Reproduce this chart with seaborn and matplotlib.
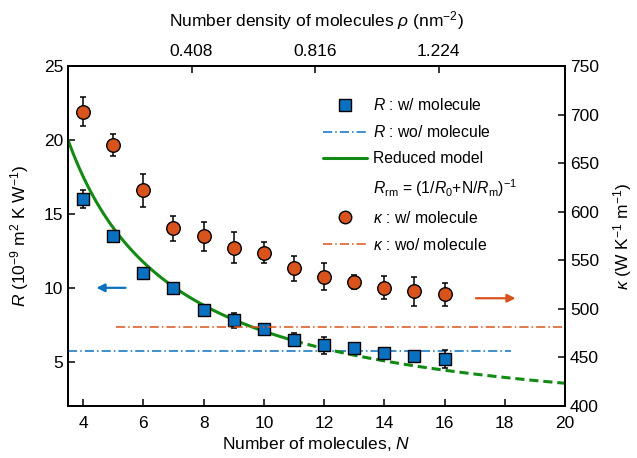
import numpy as np
import pandas as pd
import matplotlib
matplotlib.use("Agg")
import matplotlib.pyplot as plt
from matplotlib.lines import Line2D
import seaborn as sns

sns.set_theme(style="ticks")
plt.rcParams['font.family'] = ['Liberation Sans', 'DejaVu Sans']
plt.rcParams['mathtext.fontset'] = 'custom'
plt.rcParams['mathtext.rm'] = 'Liberation Sans'
plt.rcParams['mathtext.it'] = 'Liberation Sans:italic'
plt.rcParams['text.color'] = 'black'
plt.rcParams['axes.labelcolor'] = 'black'

# ---- data ----
n_mol = [4, 5, 6, 7, 8, 9, 10, 11, 12, 13, 14, 15, 16]
R_with = [16.0, 13.5, 11.0, 10.0, 8.5, 7.8, 7.2, 6.5, 6.1, 5.9, 5.6, 5.4, 5.2]
R_err = [0.6, 0.3, 0.35, 0.1, 0.3, 0.5, 0.15, 0.45, 0.6, 0.3, 0.3, 0.1, 0.6]
kappa_with = [703, 669, 622, 583, 575, 563, 558, 542, 533, 528, 522, 518, 515]
kappa_err = [15, 11, 17, 13, 15, 16, 11, 13, 14, 7, 12, 15, 12]

R_without = 5.7          # R : wo/ molecule
R_without_span = [3.5, 18.2]
kappa_without = 481      # kappa : wo/ molecule
kappa_without_span = [5.1, 20]

# reduced model R_rm = (1/R0 + N/Rm)^-1
R0 = 1466.0
Rm = 71.0
model_solid_span = [3.5, 11.0]
model_dash_span = [11.0, 20.0]

rho_ticks = [0.408, 0.816, 1.224]
rho_per_n = 0.0995

blue = "#0a70c0"
orange = "#d9541c"
green = "#138a13"

df_R = pd.DataFrame({"N": n_mol, "R": R_with, "err": R_err})
df_k = pd.DataFrame({"N": n_mol, "kappa": kappa_with, "err": kappa_err})

fig = plt.figure(figsize=(6.37, 4.58), dpi=100)
ax = fig.add_axes([0.1068, 0.1135, 0.7802, 0.742])
ax2 = ax.twinx()

# reduced model curve
def reduced(n):
    return 1.0 / (1.0 / R0 + n / Rm)

n_s = np.linspace(*model_solid_span, 100)
n_d = np.linspace(*model_dash_span, 100)
sns.lineplot(x=n_s, y=reduced(n_s), ax=ax, color=green, lw=2.2, zorder=3)
sns.lineplot(x=n_d, y=reduced(n_d), ax=ax, color=green, lw=2.2, ls=(0, (3, 1.6)), zorder=3)

# without-molecule reference lines
ax.plot(R_without_span, [R_without] * 2, color=blue, lw=1.1, ls=(0, (6, 2, 1, 2)), zorder=2)
ax2.plot(kappa_without_span, [kappa_without] * 2, color=orange, lw=1.1, ls=(0, (6, 2, 1, 2)), zorder=2)

# error bars + markers
ax.errorbar(df_R["N"], df_R["R"], yerr=df_R["err"], fmt="none", ecolor="black",
            elinewidth=1.1, capsize=2.5, capthick=1.1, zorder=4)
sns.scatterplot(data=df_R, x="N", y="R", ax=ax, marker="s", s=85, color=blue,
                edgecolor="black", linewidth=1.0, zorder=5)
ax2.errorbar(df_k["N"], df_k["kappa"], yerr=df_k["err"], fmt="none", ecolor="black",
             elinewidth=1.1, capsize=2.5, capthick=1.1, zorder=4)
sns.scatterplot(data=df_k, x="N", y="kappa", ax=ax2, marker="o", s=95, color=orange,
                edgecolor="black", linewidth=1.0, zorder=5)

# arrows pointing to the axes
ax.annotate("", xy=(4.35, 10), xytext=(5.5, 10),
            arrowprops=dict(arrowstyle="-|>", color=blue, lw=1.6, mutation_scale=12))
ax2.annotate("", xy=(18.45, 511), xytext=(16.95, 511),
             arrowprops=dict(arrowstyle="-|>", color=orange, lw=1.6, mutation_scale=12))

ax.set_xlim(3.5, 20)
ax.set_ylim(2, 25)
ax2.set_ylim(400, 750)
ax.set_xticks([4, 6, 8, 10, 12, 14, 16, 18, 20])
ax.set_yticks([5, 10, 15, 20, 25])
ax2.set_yticks([400, 450, 500, 550, 600, 650, 700, 750])

fs = 12.5
ax.set_xlabel("Number of molecules, $N$", fontsize=fs, labelpad=3)
ax.set_ylabel("$R$ (10$^{-9}$ m$^2$ K W$^{-1}$)", fontsize=fs, labelpad=9)
ax2.set_ylabel(r"$\kappa$ (W K$^{-1}$ m$^{-1}$)", fontsize=fs, labelpad=9)

top = ax.secondary_xaxis("top", functions=(lambda n: (n - 3.5) * rho_per_n,
                                            lambda r: r / rho_per_n + 3.5))
top.set_xticks(rho_ticks)
top.set_xticklabels([f"{t:.3f}" for t in rho_ticks])
top.set_xlabel(r"Number density of molecules $\rho$ (nm$^{-2}$)", fontsize=fs, labelpad=13)

for a in (ax, ax2, top):
    a.tick_params(direction="in", length=5, width=1.1, labelsize=fs, colors="black")
    for sp in a.spines.values():
        sp.set_linewidth(1.3)
        sp.set_color("black")
ax.tick_params(axis="x", pad=7)
top.tick_params(pad=5)

handles = [
    Line2D([], [], marker="s", ls="none", color=blue, markeredgecolor="black", markersize=8.5),
    Line2D([], [], color=blue, lw=1.1, ls=(0, (6, 2, 1, 2))),
    Line2D([], [], color=green, lw=2.2),
    Line2D([], [], color="none"),
    Line2D([], [], marker="o", ls="none", color=orange, markeredgecolor="black", markersize=9),
    Line2D([], [], color=orange, lw=1.1, ls=(0, (6, 2, 1, 2))),
]
labels = [
    "$R$ : w/ molecule",
    "$R$ : wo/ molecule",
    "Reduced model",
    r"$R_{\mathrm{rm}}$ = (1/$R_0$+N/$R_{\mathrm{m}}$)$^{-1}$",
    r"$\kappa$ : w/ molecule",
    r"$\kappa$ : wo/ molecule",
]
leg = ax2.legend(handles, labels, loc="upper left", bbox_to_anchor=(0.485, 0.95),
                 frameon=False, fontsize=11.3, handlelength=2.8, handletextpad=0.35,
                 labelspacing=0.7)
for t in leg.get_texts():
    t.set_color("black")

fig.savefig("out.png", dpi=100)
